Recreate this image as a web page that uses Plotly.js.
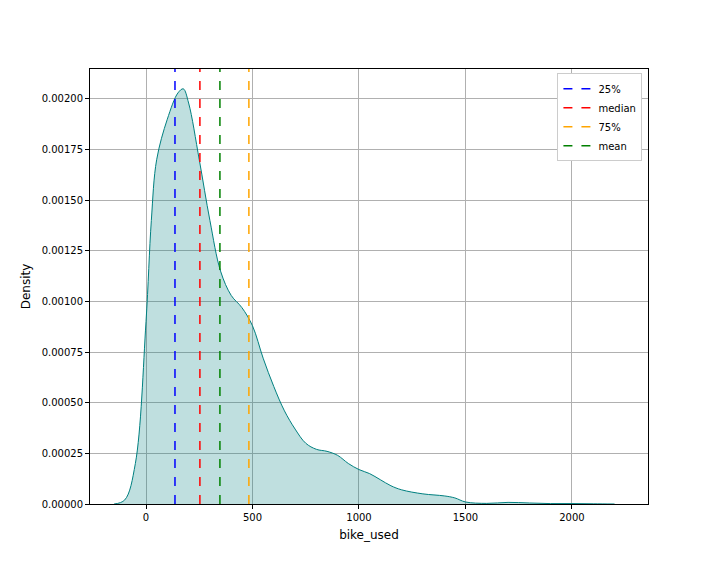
<!DOCTYPE html>
<html>
<head>
<meta charset="utf-8">
<script src="https://cdn.plot.ly/plotly-3.0.1.min.js"></script>
<style>body{margin:0;background:#fff}#chart{width:720px;height:576px}</style>
</head>
<body>
<div id="chart"></div>
<script>
// KDE of bike_used
const kdeX = [-150, -100, -50, 0, 25, 50, 100, 150, 175, 200, 250, 300, 350, 400, 450, 500,
  550, 600, 650, 700, 750, 800, 850, 900, 950, 1000, 1050, 1100, 1150, 1200, 1300, 1400,
  1450, 1500, 1600, 1700, 1800, 1900, 2000, 2100, 2200];
const kdeY = [0, 0.00002, 0.0002, 0.0009, 0.0014, 0.0017, 0.0019, 0.00203, 0.00205, 0.00198,
  0.0017, 0.0014, 0.00115, 0.00103, 0.00097, 0.00088, 0.00072, 0.00058, 0.00046, 0.00037,
  0.0003, 0.00027, 0.00026, 0.00024, 0.0002, 0.00017, 0.00015, 0.00012, 0.00009, 0.00007,
  0.00005, 0.00004, 0.00003, 0.00001, 0.000003, 0.000008, 0.000005, 0.000002, 0.000002,
  0.000001, 0];

const statNames  = ['25%', 'median', '75%', 'mean'];
const statValues = [136, 253, 483, 347];
const statColors = ['blue', 'red', 'orange', 'green'];

const yTop = 0.002148;

const traces = [{
  x: kdeX, y: kdeY, type: 'scatter', mode: 'lines', line: {shape: 'spline', color: '#008080', width: 1},
  fill: 'tozeroy', fillcolor: 'rgba(0,128,128,0.25)', showlegend: false, hoverinfo: 'skip'
}].concat(statNames.map((name, i) => ({
  x: [statValues[i], statValues[i]], y: [0, yTop], type: 'scatter', mode: 'lines', name: name,
  line: {color: statColors[i], dash: 'dash', width: 1.5}
})));

const axisCommon = {
  showline: true, mirror: true, linecolor: 'black', linewidth: 1,
  ticks: 'outside', ticklen: 4, tickcolor: 'black',
  showgrid: true, gridcolor: '#b0b0b0', gridwidth: 1, zeroline: false
};

const layout = {
  width: 720, height: 576,
  paper_bgcolor: 'white', plot_bgcolor: 'white',
  font: {family: 'DejaVu Sans', size: 10, color: 'black'},
  margin: {l: 90, r: 72, t: 69, b: 72},
  xaxis: Object.assign({}, axisCommon, {
    range: [-263, 2357], tickvals: [0, 500, 1000, 1500, 2000],
    title: {text: 'bike_used', standoff: 8}
  }),
  yaxis: Object.assign({}, axisCommon, {
    range: [0, yTop], tickformat: '.5f', dtick: 0.00025,
    title: {text: 'Density', standoff: 8}
  }),
  legend: {x: 0.99, y: 0.99, xanchor: 'right', yanchor: 'top', bgcolor: 'white',
    bordercolor: '#ccc', borderwidth: 1, font: {size: 10}},
  showlegend: true
};

Plotly.newPlot('chart', traces, layout, {displayModeBar: false});
</script>
</body>
</html>
